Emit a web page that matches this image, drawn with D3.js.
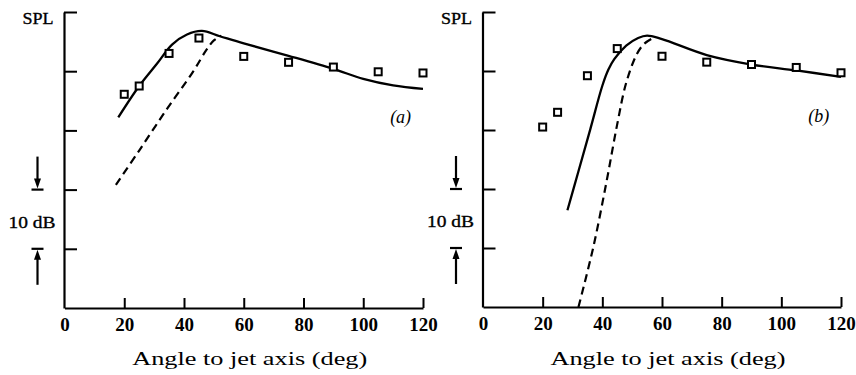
<!DOCTYPE html>
<html>
<head>
<meta charset="utf-8">
<script src="https://cdn.jsdelivr.net/npm/d3@7"></script>
<style>
  html, body { margin: 0; padding: 0; background: #fff; }
  svg { display: block; }
  text { font-family: "Liberation Serif", "Times New Roman", Times, serif; }
</style>
</head>
<body>
<svg id="chart" width="856" height="375"></svg>
<script>
// ---- data ----
const angleTicks = [0, 20, 40, 60, 80, 100, 120];
const splTicks = [10, 20, 30, 40, 50];
const panelLabels = ["(a)", "(b)"];
const xTitle = "Angle to jet axis (deg)";

const measuredAngles = [20, 25, 35, 45, 60, 75, 90, 105, 120];
const measuredA = [36.1, 37.5, 43.0, 45.6, 42.5, 41.5, 40.7, 39.9, 39.7];
const measuredB = [30.5, 33.0, 39.2, 43.8, 42.5, 41.5, 41.1, 40.6, 39.7];

const solidAnglesA = [18, 25, 31, 36, 41, 46, 52, 60, 75, 90, 100, 110, 120];
const solidValuesA = [32.2, 37.5, 41.3, 44.5, 46.2, 46.8, 45.9, 44.7, 42.6, 40.4, 38.7, 37.6, 37.0];
const dashedAnglesA = [17.2, 25, 34, 43, 47.5, 50, 52.5];
const dashedValuesA = [20.8, 26.6, 33.4, 39.9, 43.6, 45.2, 46.0];

const solidAnglesB = [28.3, 32, 36, 40, 42, 44, 48, 52, 55, 60, 75, 90, 105, 120];
const solidValuesB = [16.4, 23.0, 30.2, 37.5, 40.2, 42.0, 44.3, 45.6, 46.0, 45.4, 42.7, 41.1, 40.1, 39.0];
const dashedAnglesB = [32, 37, 41.5, 45, 48, 51.5, 54, 57];
const dashedValuesB = [0, 10.2, 21.5, 31.0, 38.0, 42.8, 44.6, 45.6];

// ---- layout ----
const panels = [
  { x0: 64.5, x1: 423, y0: 308, y1: 12, label: panelLabels[0],
    meas: measuredA, solid: [solidAnglesA, solidValuesA], dashed: [dashedAnglesA, dashedValuesA] },
  { x0: 483, x1: 841, y0: 307, y1: 12, label: panelLabels[1],
    meas: measuredB, solid: [solidAnglesB, solidValuesB], dashed: [dashedAnglesB, dashedValuesB] }
];

const svg = d3.select("#chart");

panels.forEach(p => {
  const x = d3.scaleLinear().domain([0, 120]).range([p.x0, p.x1]);
  const y = d3.scaleLinear().domain([0, 50]).range([p.y0, p.y1]);
  const g = svg.append("g");

  // x axis
  const xa = g.append("g").attr("transform", `translate(0,${p.y0})`)
    .call(d3.axisBottom(x).tickValues(angleTicks).tickSizeInner(-10).tickSizeOuter(0).tickPadding(10));
  xa.attr("font-family", null).attr("font-size", null);
  xa.select(".domain").attr("stroke", "#000").attr("stroke-width", 2.2);
  xa.selectAll(".tick line").attr("stroke", "#000").attr("stroke-width", 2)
    .attr("display", d => d === 0 ? "none" : null);
  xa.selectAll(".tick text").style("font-size", "19px")
    .style("font-weight", "bold").attr("fill", "#000");

  // y axis
  const ya = g.append("g").attr("transform", `translate(${p.x0 - 0.5},0)`)
    .call(d3.axisLeft(y).tickValues(splTicks).tickSizeInner(-13).tickSizeOuter(0).tickFormat(""));
  ya.select(".domain").attr("stroke", "#000").attr("stroke-width", 2.2);
  ya.selectAll(".tick line").attr("stroke", "#000").attr("stroke-width", 2);

  // SPL label
  g.append("text").attr("x", p.x0 - 42).attr("y", p.y1 + 12)
    .style("font-size", "17px").attr("textLength", 31)
    .attr("stroke", "#000").attr("stroke-width", 0.35)
    .attr("lengthAdjust", "spacingAndGlyphs").text("SPL");

  // 10 dB scale
  const ax = p.x0 - 27;
  g.append("text").attr("x", p.x0 - 56).attr("y", (y(20) + y(10)) / 2 + 8.5)
    .style("font-size", "17px").attr("textLength", 47)
    .attr("stroke", "#000").attr("stroke-width", 0.35)
    .attr("lengthAdjust", "spacingAndGlyphs").text("10 dB");
  // down arrow to 20 dB tick
  g.append("line").attr("x1", ax).attr("x2", ax).attr("y1", y(20) - 33).attr("y2", y(20) - 8)
    .attr("stroke", "#000").attr("stroke-width", 2.2);
  g.append("path").attr("d", `M${ax - 3.5},${y(20) - 11} L${ax + 3.5},${y(20) - 11} L${ax},${y(20) - 1} Z`).attr("fill", "#000");
  g.append("line").attr("x1", ax - 6).attr("x2", ax + 6).attr("y1", y(20)).attr("y2", y(20))
    .attr("stroke", "#000").attr("stroke-width", 2.2);
  // up arrow to 10 dB tick
  g.append("line").attr("x1", ax).attr("x2", ax).attr("y1", y(10) + 8).attr("y2", y(10) + 36)
    .attr("stroke", "#000").attr("stroke-width", 2.2);
  g.append("path").attr("d", `M${ax - 3.5},${y(10) + 11} L${ax + 3.5},${y(10) + 11} L${ax},${y(10) + 1} Z`).attr("fill", "#000");
  g.append("line").attr("x1", ax - 6).attr("x2", ax + 6).attr("y1", y(10)).attr("y2", y(10))
    .attr("stroke", "#000").attr("stroke-width", 2.2);

  // curves
  const line = d3.line().x(d => x(d[0])).y(d => y(d[1])).curve(d3.curveCatmullRom.alpha(0.5));
  g.append("path").datum(d3.zip(p.dashed[0], p.dashed[1])).attr("d", line)
    .attr("fill", "none").attr("stroke", "#000").attr("stroke-width", 2.2).attr("stroke-dasharray", "8,5");
  g.append("path").datum(d3.zip(p.solid[0], p.solid[1])).attr("d", line)
    .attr("fill", "none").attr("stroke", "#000").attr("stroke-width", 2.3);

  // measured points
  g.selectAll("rect.m").data(d3.zip(measuredAngles, p.meas)).join("rect").attr("class", "m")
    .attr("x", d => x(d[0]) - 3.5).attr("y", d => y(d[1]) - 3.5)
    .attr("width", 7).attr("height", 7)
    .attr("fill", "#fff").attr("stroke", "#000").attr("stroke-width", 2);

  // panel label
  g.append("text").attr("x", x(109)).attr("y", y(31.3))
    .style("font-style", "italic").style("font-size", "18px")
    .text(p.label);

  // x title
  g.append("text").attr("x", x(62)).attr("y", 365).attr("text-anchor", "middle")
    .style("font-size", "19px").attr("textLength", 235)
    .attr("lengthAdjust", "spacingAndGlyphs").text(xTitle);
});
</script>
</body>
</html>
